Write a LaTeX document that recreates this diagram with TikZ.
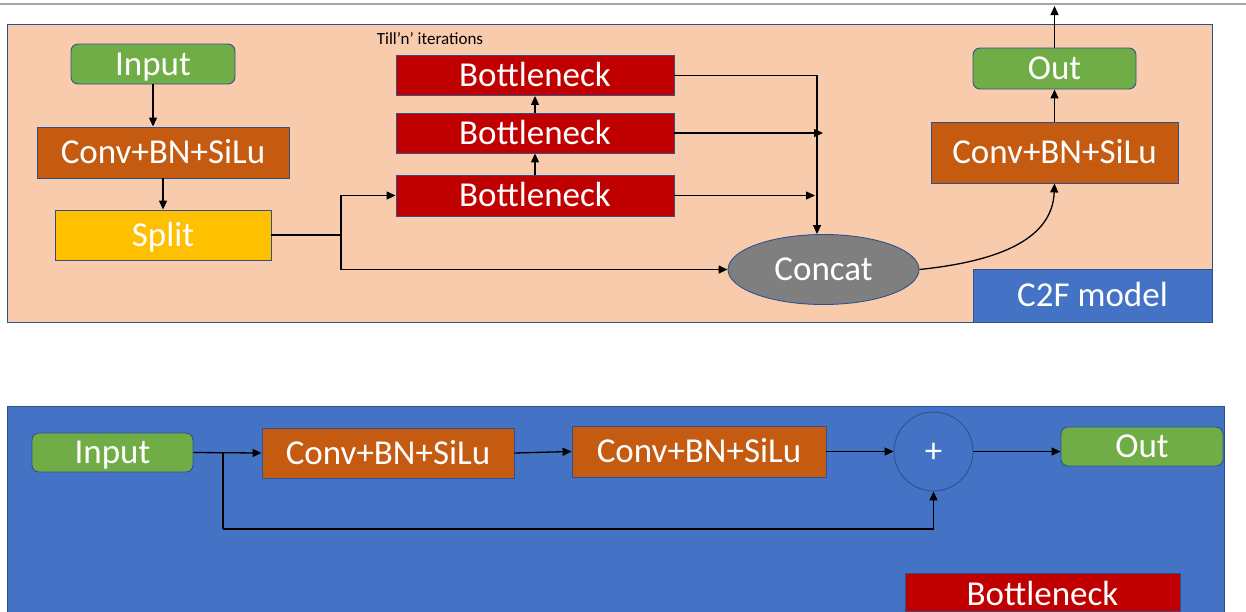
\documentclass[tikz,border=0pt]{standalone}
\usepackage{fontspec}
\setmainfont{Carlito}
\usetikzlibrary{arrows.meta,shapes.geometric}

\definecolor{peach}{HTML}{F8CBAD}
\definecolor{rust}{HTML}{C55A11}
\definecolor{leaf}{HTML}{70AD47}
\definecolor{amber}{HTML}{FFC000}
\definecolor{crimson}{HTML}{C00000}
\definecolor{slate}{HTML}{7F7F7F}
\definecolor{azure}{HTML}{4472C4}
\definecolor{edge}{HTML}{2F528F}
\definecolor{rule}{HTML}{A6A6A6}

\tikzset{
  blk/.style={draw=edge, line width=0.9pt, text=white, inner sep=0pt,
    font=\fontsize{35}{42}\selectfont, text height=22.5pt, text depth=0pt},
  rblk/.style={blk, rounded corners=7pt},
  conn/.style={line width=1.3pt, -{Triangle[length=9pt,width=8pt]}},
  wire/.style={line width=1.3pt},
}

\begin{document}
\begin{tikzpicture}[x=1pt,y=-1pt]
\clip (0,0) rectangle (1246,611);
\fill[white] (0,0) rectangle (1246,611);

% thin rule along the top
\draw[rule, line width=1.5pt] (0,4) -- (1246,4);

% ---------- C2F module ----------
\draw[fill=peach, draw=edge, line width=0.9pt] (7,24) rectangle (1212,322);
\node[blk, fill=azure, minimum width=239pt, minimum height=53pt] (tag) at (1092.5,295.5) {C2F model};

\node[rblk, fill=leaf, minimum width=164pt, minimum height=40pt] (in1) at (153,64) {Input};
\node[blk, fill=rust, minimum width=252pt, minimum height=51pt] (cv1) at (163,152.5) {Conv+BN+SiLu};
\node[blk, fill=amber, minimum width=216pt, minimum height=50pt] (sp) at (163,235) {Split};

\node[font=\fontsize{17}{20}\selectfont] (iter) at (430,39) {Till’n’ iterations};
\node[blk, fill=crimson, minimum width=278pt, minimum height=40pt] (b3) at (535,75.5) {Bottleneck};
\node[blk, fill=crimson, minimum width=278pt, minimum height=40pt] (b2) at (535,133) {Bottleneck};
\node[blk, fill=crimson, minimum width=278pt, minimum height=41pt] (b1) at (535,195.5) {Bottleneck};

\node[blk, ellipse, fill=slate, minimum width=191pt, minimum height=70pt] (cc) at (823.5,269.5) {Concat};

\node[blk, fill=rust, minimum width=247pt, minimum height=61pt] (cv2) at (1054.5,152.5) {Conv+BN+SiLu};
\node[rblk, fill=leaf, minimum width=163pt, minimum height=41pt] (out1) at (1054.5,68.5) {Out};

\coordinate (j1) at (341,235);
\coordinate (m2) at (823,133);
\coordinate (m1) at (815,195.5);
\coordinate (top) at (1054.5,6);

\draw[conn] (in1.south) -- (in1.south |- cv1.north);
\draw[conn] (cv1.south) -- (sp.north);
\draw[wire] (sp.east) -- (j1);
\draw[conn] (j1) |- (b1.west);
\draw[conn] (j1) |- (cc.west);
\draw[conn] (b1.north) -- (b2.south);
\draw[conn] (b2.north) -- (b3.south);
\draw[conn] (b3.east) -| ([xshift=-6.5pt]cc.north);
\draw[conn] (b2.east) -- (m2);
\draw[conn] (b1.east) -- (m1);
\draw[conn] (cc.east) to[out=6, in=-92] (cv2.south);
\draw[conn] (cv2.north) -- (out1.south);
\draw[conn] (out1.north) -- (top);

% ---------- Bottleneck block ----------
\draw[fill=azure, draw=edge, line width=0.9pt] (7,406) rectangle (1224,640);

\node[rblk, fill=leaf, minimum width=161pt, minimum height=39pt] (in2) at (112.5,452.5) {Input};
\node[blk, fill=rust, minimum width=252pt, minimum height=50pt] (ca) at (388,453) {Conv+BN+SiLu};
\node[blk, fill=rust, minimum width=254pt, minimum height=51pt] (cb) at (699,451.5) {Conv+BN+SiLu};
\node[blk, circle, fill=azure, minimum size=79pt] (add) at (933.5,451.5) {+};
\node[rblk, fill=leaf, minimum width=162pt, minimum height=39pt] (out2) at (1142,446.5) {Out};
% legend tag running off the lower edge
\node[blk, fill=crimson, minimum width=275pt, minimum height=38pt,
      text height=30pt, text depth=4pt] (lbl) at (1042.5,592) {Bottleneck};

\coordinate (j2) at (223,452.5);
\coordinate (j3) at (223,529);

\draw[conn] (in2.east) -- (ca.west);
\draw[wire] (j2) -- (j3);
\draw[conn] (j3) -| (add.south);
\draw[conn] (ca.east) -- (cb.west);
\draw[conn] (cb.east) -- (add.west);
\draw[conn] (add.east) -- (add.east -| out2.west);
\end{tikzpicture}
\end{document}
